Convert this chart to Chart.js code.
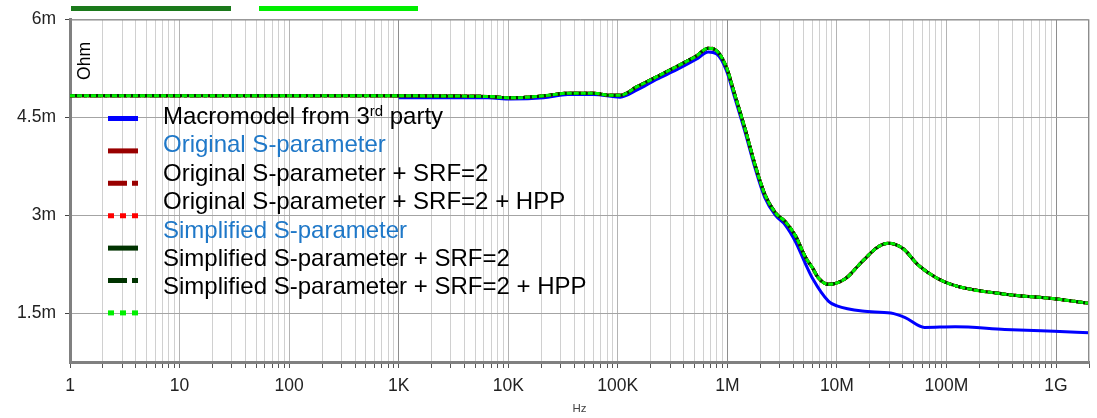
<!DOCTYPE html>
<html>
<head>
<meta charset="utf-8">
<script src="https://cdn.jsdelivr.net/npm/chart.js@4.4.1/dist/chart.umd.min.js"></script>
<style>
  html, body { margin: 0; padding: 0; background: #fff; }
  #wrap { position: relative; width: 1097px; height: 418px; }
</style>
</head>
<body>
<div id="wrap"><canvas id="zchart" width="1097" height="418"></canvas></div>
<script>
// impedance (mOhm) against frequency (Hz)
const sparamFreq = [1, 650, 6500, 10500, 21000, 35000, 60000, 85000, 105000, 150000, 225000, 345000,
  520000, 670000, 800000, 980000, 1.16e6, 1.46e6, 1.8e6, 2.2e6, 2.74e6, 3.38e6, 4.2e6, 5.15e6, 6e6,
  6.7e6, 8.4e6, 12e6, 17e6, 24e6, 29.5e6, 40e6, 55e6, 83e6, 120e6, 340e6, 960e6, 2e9];
const sparamOhm = [4.83, 4.83, 4.82, 4.80, 4.83, 4.87, 4.87, 4.84, 4.84, 4.97, 5.12, 5.28,
  5.44, 5.56, 5.52, 5.27, 4.87, 4.31, 3.76, 3.32, 3.04, 2.90, 2.68, 2.36, 2.19,
  2.05, 1.94, 2.03, 2.29, 2.52, 2.57, 2.49, 2.24, 2.03, 1.92, 1.79, 1.72, 1.65];

const macroFreq = [1000, 6500, 10500, 21000, 35000, 60000, 105000, 150000, 225000, 345000,
  520000, 670000, 800000, 980000, 1.16e6, 1.46e6, 1.8e6, 2.2e6, 2.74e6, 3.38e6, 4.2e6, 5.15e6, 6e6,
  8.4e6, 10e6, 17e6, 31e6, 42e6, 63e6, 120e6, 340e6, 960e6, 2e9];
const macroOhm = [4.80, 4.80, 4.78, 4.80, 4.85, 4.85, 4.81, 4.92, 5.08, 5.23,
  5.39, 5.50, 5.47, 5.22, 4.82, 4.26, 3.71, 3.27, 3.00, 2.85, 2.59, 2.26, 2.03,
  1.68, 1.61, 1.53, 1.50, 1.43, 1.28, 1.29, 1.25, 1.22, 1.20];

const decades = [1, 10, 100, 1e3, 1e4, 1e5, 1e6, 1e7, 1e8, 1e9];
const decadeLabels = ['1', '10', '100', '1K', '10K', '100K', '1M', '10M', '100M', '1G'];
const yTicks = [1.5, 3, 4.5, 6];

const legendLabels = [
  'Macromodel from 3|rd| party',
  'Original S-parameter',
  'Original S-parameter + SRF=2',
  'Original S-parameter + SRF=2 + HPP',
  'Simplified S-parameter',
  'Simplified S-parameter + SRF=2',
  'Simplified S-parameter + SRF=2 + HPP'
];
const legendColors = ['#000', '#1f78c8', '#000', '#000', '#1f78c8', '#000', '#000'];

const FONT = '"Liberation Sans", Arial, sans-serif';

function pts(xs, ys) {
  return xs.map((x, i) => ({x: x, y: ys[i]}));
}

const sparam = pts(sparamFreq, sparamOhm);

const datasets = [
  {label: 'Macromodel from 3rd party', data: pts(macroFreq, macroOhm), borderColor: '#0000ff',
   borderWidth: 3, order: 6, legendDash: []},
  {label: 'Original S-parameter', data: sparam, borderColor: '#990000',
   borderWidth: 3, order: 5, legendDash: []},
  {label: 'Original S-parameter + SRF=2', data: sparam, borderColor: '#990000',
   borderWidth: 3, borderDash: [11, 3, 3, 3], order: 4, legendDash: [19, 5, 6, 5]},
  {label: 'Original S-parameter + SRF=2 + HPP', data: sparam, borderColor: '#ff0000',
   borderWidth: 3, borderDash: [3, 3], order: 3, legendDash: [6, 6]},
  {label: 'Simplified S-parameter', data: sparam, borderColor: '#003300',
   borderWidth: 3, order: 2, legendDash: []},
  {label: 'Simplified S-parameter + SRF=2', data: sparam, borderColor: '#003300',
   borderWidth: 3, borderDash: [11, 3, 3, 3], order: 1, legendDash: [19, 5, 6, 5]},
  {label: 'Simplified S-parameter + SRF=2 + HPP', data: sparam, borderColor: '#00f000',
   borderWidth: 3, borderDash: [5, 2], order: 0, legendDash: [6, 6]}
];

const overlay = {
  id: 'overlay',
  afterDraw(chart) {
    const ctx = chart.ctx;
    const a = chart.chartArea;
    ctx.save();

    // frame on top and right
    ctx.strokeStyle = '#8c8c8c';
    ctx.lineWidth = 1;
    ctx.beginPath();
    ctx.moveTo(a.left, a.top + 0.5);
    ctx.lineTo(a.right - 0.5, a.top + 0.5);
    ctx.lineTo(a.right - 0.5, a.bottom);
    ctx.stroke();

    // cut off bits of a legend above the plot
    ctx.fillStyle = '#1b7a1b';
    ctx.fillRect(71, 6, 160, 5);
    ctx.fillStyle = '#00ee00';
    ctx.fillRect(259, 6, 159, 5);

    // unit label
    ctx.save();
    ctx.translate(85, 61);
    ctx.rotate(-Math.PI / 2);
    ctx.fillStyle = '#000';
    ctx.font = '17.5px ' + FONT;
    ctx.textAlign = 'center';
    ctx.textBaseline = 'middle';
    ctx.fillText('Ohm', 0, 0);
    ctx.restore();

    // legend samples
    chart.data.datasets.forEach((ds, i) => {
      const y = 118.5 + i * 32.4;
      ctx.strokeStyle = ds.borderColor;
      ctx.lineWidth = 5;
      ctx.lineCap = 'butt';
      ctx.setLineDash(ds.legendDash);
      ctx.beginPath();
      ctx.moveTo(108, y);
      ctx.lineTo(138, y);
      ctx.stroke();
    });
    ctx.setLineDash([]);

    // legend texts
    ctx.textAlign = 'left';
    ctx.textBaseline = 'middle';
    legendLabels.forEach((t, i) => {
      const y = 117.5 + i * 28.35;
      let x = 163;
      ctx.fillStyle = legendColors[i];
      t.split('|').forEach((part, k) => {
        const sup = k % 2 === 1;
        ctx.font = (sup ? '15px ' : '24px ') + FONT;
        ctx.fillText(part, x, sup ? y - 6 : y);
        x += ctx.measureText(part).width;
      });
    });
    ctx.restore();
  }
};

function xGridColor(c) {
  const v = c.tick ? c.tick.value : 1;
  const e = Math.log10(v);
  if (Math.abs(e - Math.round(e)) < 1e-9) {
    return Math.round(e) % 3 === 0 ? '#8e8e8e' : '#b4b4b4';
  }
  return '#d0d0d0';
}

new Chart(document.getElementById('zchart'), {
  type: 'line',
  data: {datasets: datasets},
  options: {
    responsive: false,
    animation: false,
    devicePixelRatio: 1,
    layout: {padding: {top: 16, right: 1, left: 0, bottom: 0}},
    elements: {
      point: {radius: 0},
      line: {cubicInterpolationMode: 'monotone', borderCapStyle: 'butt'}
    },
    plugins: {legend: {display: false}, tooltip: {enabled: false}},
    scales: {
      x: {
        type: 'logarithmic',
        min: 1,
        max: 2e9,
        afterBuildTicks(scale) {
          const t = [];
          decades.forEach(d => {
            for (let m = 1; m <= 9; m++) {
              const v = d * m;
              if (v <= 2e9) t.push({value: v, major: m === 1});
            }
          });
          t.push({value: 2e9});
          scale.ticks = t;
        },
        afterFit(scale) { scale.height = 56; },
        grid: {color: xGridColor, lineWidth: 1, tickLength: 6, tickColor: '#555'},
        border: {color: '#808080', width: 3},
        ticks: {
          autoSkip: false,
          maxRotation: 0,
          padding: 8,
          color: '#222',
          font: {family: FONT, size: 17.5},
          callback(v) {
            const i = decades.indexOf(v);
            return i >= 0 ? decadeLabels[i] : '';
          }
        },
        title: {display: true, text: 'Hz', color: '#444', font: {family: FONT, size: 11.5},
          padding: {top: 0, bottom: 2}}
      },
      y: {
        min: 0.75,
        max: 6,
        afterBuildTicks(scale) { scale.ticks = yTicks.map(v => ({value: v})); },
        afterFit(scale) { scale.width = 70; },
        grid: {color: '#a4a4a4', lineWidth: 1, tickLength: 5, tickColor: '#444'},
        border: {color: '#808080', width: 3},
        ticks: {
          padding: 9,
          color: '#222',
          font: {family: FONT, size: 17.5},
          callback: v => v + 'm'
        }
      }
    }
  },
  plugins: [overlay]
});
</script>
</body>
</html>
